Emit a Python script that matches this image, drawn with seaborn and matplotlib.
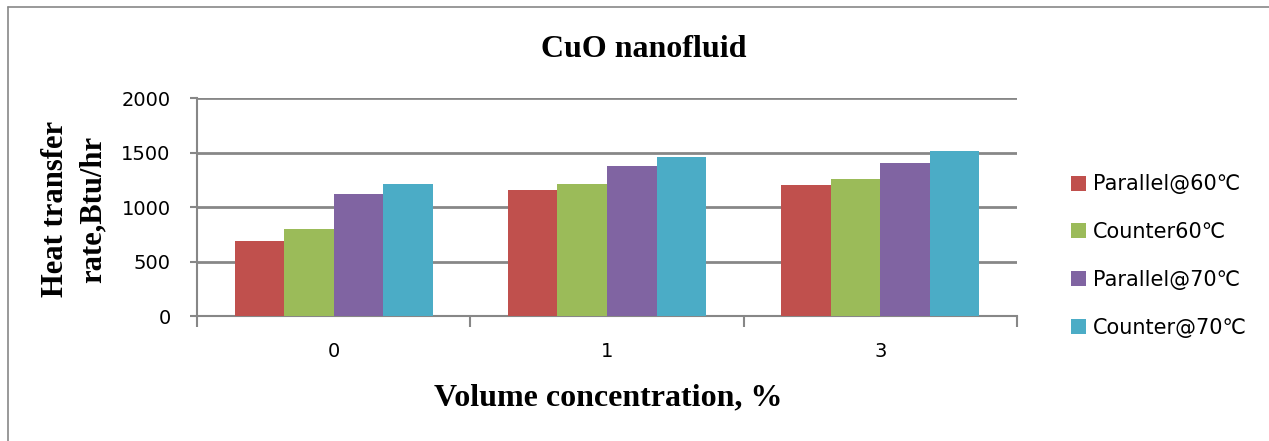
import matplotlib
matplotlib.use("Agg")
import matplotlib.pyplot as plt
import seaborn as sns
import pandas as pd
from matplotlib.lines import Line2D

categories = ["0", "1", "3"]
series = ["Parallel@60℃", "Counter60℃", "Parallel@70℃", "Counter@70℃"]
parallel60 = [688, 1156, 1202]
counter60 = [795, 1211, 1254]
parallel70 = [1119, 1373, 1401]
counter70 = [1208, 1463, 1510]
yticks = [0, 500, 1000, 1500, 2000]
colors = ["#C0504D", "#9BBB59", "#8064A2", "#4BACC6"]

rows = []
for s, vals in zip(series, [parallel60, counter60, parallel70, counter70]):
    for c, v in zip(categories, vals):
        rows.append({"cat": c, "series": s, "value": v})
df = pd.DataFrame(rows)

sns.set_style("white")
plt.rcParams['font.family'] = ['DejaVu Sans']
plt.rcParams['text.color'] = 'black'
plt.rcParams['xtick.labelcolor'] = 'black'
plt.rcParams['ytick.labelcolor'] = 'black'

fig = plt.figure(figsize=(12.69, 4.41), dpi=100)
ax = fig.add_axes([197/1269, 1-316/441, (1017-197)/1269, (316-98)/441])

sns.barplot(data=df, x="cat", y="value", hue="series", order=categories,
            hue_order=series, palette=colors, width=0.725, ax=ax,
            saturation=1, errorbar=None, legend=True, zorder=3,
            edgecolor="none", linewidth=0)

ax.set_ylim(0, 2000)
ax.set_xlim(-0.5, 2.5)
ax.set_yticks(yticks)
ax.set_yticklabels([str(t) for t in yticks], fontsize=14, color="black")
ax.yaxis.grid(True, color="#878787", linewidth=2)
ax.set_axisbelow(True)
for sp in ["top", "right"]:
    ax.spines[sp].set_visible(False)
for sp in ["left", "bottom"]:
    ax.spines[sp].set_color("#878787")
    ax.spines[sp].set_linewidth(1.5)
ax.tick_params(axis="y", left=True, length=5, width=1.5, color="#878787", pad=14)
ax.set_xticks([-0.5, 0.5, 1.5, 2.5], minor=True)
ax.tick_params(axis="x", which="minor", bottom=True, length=8, width=1.5, color="#878787")
ax.tick_params(axis="x", which="major", bottom=True, length=0, pad=19, labelsize=14,
               labelcolor="black")
ax.set_xlabel("")
ax.set_ylabel("")

serif = "Liberation Serif"
fig.text(608/1269, 1-405/441, "Volume concentration, %", family=serif,
         fontweight="bold", fontsize=23, ha="center", va="baseline", color="black")
fig.text(74/1269, 1-209/441, "Heat transfer\nrate,Btu/hr", family=serif,
         fontweight="bold", fontsize=22, ha="center", va="center", color="black",
         rotation=90, linespacing=1.4, multialignment="center")
fig.text(644/1269, 1-57/441, "CuO nanofluid", family=serif,
         fontweight="bold", fontsize=23, ha="center", va="baseline", color="black")

handles, labels = ax.get_legend_handles_labels()
ax.get_legend().remove()
fig.legend(handles, labels, loc="center left", bbox_to_anchor=(1052/1269, 1-256/441),
           frameon=False, fontsize=15, handlelength=0.72, handleheight=0.72,
           handletextpad=0.34, labelspacing=1.33, labelcolor="black")

# outer chart border (left and top)
fig.add_artist(Line2D([8/1269, 8/1269], [0, 1-7/441], transform=fig.transFigure,
                      color="#888888", linewidth=1.2))
fig.add_artist(Line2D([8/1269, 1], [1-7/441, 1-7/441], transform=fig.transFigure,
                      color="#888888", linewidth=1.2))

fig.savefig("out.png", dpi=100)
